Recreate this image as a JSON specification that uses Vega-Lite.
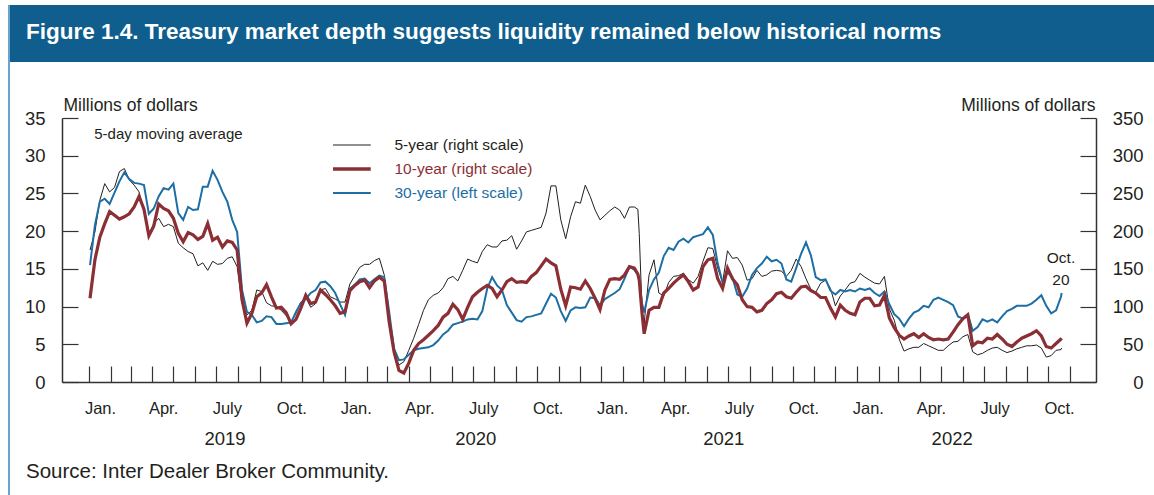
{
  "$schema": "https://vega.github.io/schema/vega-lite/v6.json",
  "background": "white",
  "padding": {"left": 8, "top": 5, "right": 0, "bottom": 0},
  "config": {
    "view": {"stroke": null},
    "font": "Liberation Sans",
    "axis": {"grid": false}
  },
  "bounds": "flush",
  "spacing": 0,
  "hconcat": [
    {
      "width": 2,
      "height": 490,
      "data": {"values": []},
      "mark": "point",
      "view": {"fill": "#6aa3cc", "stroke": null}
    },
    {
      "bounds": "flush",
      "spacing": 56,
      "vconcat": [
        {
          "width": 1144,
          "height": 57,
          "data": {"values": []},
          "mark": "point",
          "view": {"fill": "#0f5e8e", "stroke": null},
          "title": {
            "text": "Figure 1.4. Treasury market depth suggests liquidity remained below historical norms",
            "orient": "top",
            "anchor": "start",
            "frame": "group",
            "offset": -56,
            "dx": 16,
            "baseline": "alphabetic",
            "color": "white",
            "fontSize": 22.5,
            "fontWeight": "bold",
            "font": "Liberation Sans"
          }
        },
        {
          "bounds": "flush",
          "spacing": 0,
          "hconcat": [
            {
              "width": 52,
              "height": 264,
              "data": {"values": []},
              "mark": "point"
            },
            {
              "width": 1034,
              "height": 264,
              "title": {
                "text": "Source: Inter Dealer Broker Community.",
                "orient": "bottom",
                "anchor": "start",
                "frame": "group",
                "offset": 30,
                "dx": -36,
                "baseline": "alphabetic",
                "fontSize": 20.5,
                "fontWeight": "normal",
                "color": "#231f20",
                "font": "Liberation Sans"
              },
              "data": {
                "values": [
                  {"d": "2019-01-02", "a": 175, "b": 111, "c": 15.5},
                  {"d": "2019-01-09", "a": 199, "b": 162, "c": 20.8},
                  {"d": "2019-01-16", "a": 241, "b": 192, "c": 23.9},
                  {"d": "2019-01-23", "a": 263, "b": 210, "c": 24.3},
                  {"d": "2019-01-30", "a": 252, "b": 226, "c": 23.6},
                  {"d": "2019-02-06", "a": 258, "b": 221, "c": 25.1},
                  {"d": "2019-02-13", "a": 279, "b": 216, "c": 26.6},
                  {"d": "2019-02-20", "a": 283, "b": 219, "c": 27.8},
                  {"d": "2019-02-27", "a": 268, "b": 223, "c": 26.9},
                  {"d": "2019-03-06", "a": 261, "b": 232, "c": 26.4},
                  {"d": "2019-03-13", "a": 252, "b": 246, "c": 26.3},
                  {"d": "2019-03-20", "a": 226, "b": 229, "c": 26.1},
                  {"d": "2019-03-27", "a": 195, "b": 194, "c": 22.3},
                  {"d": "2019-04-03", "a": 210, "b": 207, "c": 23.0},
                  {"d": "2019-04-10", "a": 217, "b": 236, "c": 24.6},
                  {"d": "2019-04-17", "a": 206, "b": 230, "c": 25.7},
                  {"d": "2019-04-24", "a": 209, "b": 227, "c": 25.5},
                  {"d": "2019-05-01", "a": 206, "b": 217, "c": 26.3},
                  {"d": "2019-05-08", "a": 184, "b": 197, "c": 22.4},
                  {"d": "2019-05-15", "a": 178, "b": 186, "c": 21.5},
                  {"d": "2019-05-22", "a": 173, "b": 198, "c": 23.2},
                  {"d": "2019-05-29", "a": 170, "b": 195, "c": 22.8},
                  {"d": "2019-06-05", "a": 154, "b": 189, "c": 22.9},
                  {"d": "2019-06-12", "a": 158, "b": 193, "c": 25.9},
                  {"d": "2019-06-19", "a": 148, "b": 210, "c": 25.9},
                  {"d": "2019-06-26", "a": 160, "b": 188, "c": 28.0},
                  {"d": "2019-07-03", "a": 156, "b": 192, "c": 26.8},
                  {"d": "2019-07-10", "a": 157, "b": 179, "c": 25.2},
                  {"d": "2019-07-17", "a": 164, "b": 187, "c": 23.9},
                  {"d": "2019-07-24", "a": 166, "b": 185, "c": 21.5},
                  {"d": "2019-07-31", "a": 153, "b": 175, "c": 19.9},
                  {"d": "2019-08-07", "a": 104, "b": 109, "c": 12.2},
                  {"d": "2019-08-14", "a": 89, "b": 78, "c": 9.3},
                  {"d": "2019-08-21", "a": 95, "b": 91, "c": 8.9},
                  {"d": "2019-08-28", "a": 122, "b": 113, "c": 7.9},
                  {"d": "2019-09-04", "a": 120, "b": 118, "c": 8.1},
                  {"d": "2019-09-11", "a": 105, "b": 129, "c": 8.7},
                  {"d": "2019-09-18", "a": 101, "b": 113, "c": 8.6},
                  {"d": "2019-09-25", "a": 100, "b": 98, "c": 7.7},
                  {"d": "2019-10-02", "a": 95, "b": 99, "c": 7.7},
                  {"d": "2019-10-09", "a": 88, "b": 92, "c": 7.8},
                  {"d": "2019-10-16", "a": 79, "b": 77, "c": 7.9},
                  {"d": "2019-10-23", "a": 91, "b": 83, "c": 9.3},
                  {"d": "2019-10-30", "a": 106, "b": 98, "c": 10.5},
                  {"d": "2019-11-06", "a": 112, "b": 115, "c": 11.0},
                  {"d": "2019-11-13", "a": 99, "b": 104, "c": 11.8},
                  {"d": "2019-11-20", "a": 104, "b": 106, "c": 12.2},
                  {"d": "2019-11-27", "a": 122, "b": 122, "c": 13.2},
                  {"d": "2019-12-04", "a": 124, "b": 116, "c": 13.3},
                  {"d": "2019-12-11", "a": 113, "b": 109, "c": 12.7},
                  {"d": "2019-12-18", "a": 110, "b": 101, "c": 11.8},
                  {"d": "2019-12-25", "a": 106, "b": 91, "c": 10.3},
                  {"d": "2020-01-01", "a": 106, "b": 93, "c": 8.9},
                  {"d": "2020-01-08", "a": 130, "b": 121, "c": 12.4},
                  {"d": "2020-01-15", "a": 141, "b": 128, "c": 12.9},
                  {"d": "2020-01-22", "a": 152, "b": 133, "c": 13.6},
                  {"d": "2020-01-29", "a": 156, "b": 135, "c": 13.7},
                  {"d": "2020-02-05", "a": 156, "b": 125, "c": 13.1},
                  {"d": "2020-02-12", "a": 161, "b": 134, "c": 13.6},
                  {"d": "2020-02-19", "a": 164, "b": 139, "c": 14.1},
                  {"d": "2020-02-26", "a": 142, "b": 134, "c": 13.9},
                  {"d": "2020-03-04", "a": 76, "b": 80, "c": 9.3},
                  {"d": "2020-03-11", "a": 38, "b": 40, "c": 4.4},
                  {"d": "2020-03-18", "a": 22.5, "b": 15.5, "c": 2.9},
                  {"d": "2020-03-25", "a": 27, "b": 12, "c": 3.0},
                  {"d": "2020-04-01", "a": 42, "b": 25, "c": 3.6},
                  {"d": "2020-04-08", "a": 58, "b": 42, "c": 4.2},
                  {"d": "2020-04-15", "a": 76, "b": 51, "c": 4.4},
                  {"d": "2020-04-22", "a": 95, "b": 56, "c": 4.5},
                  {"d": "2020-04-29", "a": 109, "b": 62, "c": 4.6},
                  {"d": "2020-05-06", "a": 115, "b": 68, "c": 4.9},
                  {"d": "2020-05-13", "a": 118, "b": 75, "c": 5.5},
                  {"d": "2020-05-20", "a": 125, "b": 86, "c": 6.3},
                  {"d": "2020-05-27", "a": 137, "b": 91, "c": 6.8},
                  {"d": "2020-06-03", "a": 140, "b": 103, "c": 7.6},
                  {"d": "2020-06-10", "a": 134, "b": 96, "c": 7.8},
                  {"d": "2020-06-17", "a": 148, "b": 83, "c": 8.0},
                  {"d": "2020-06-24", "a": 163, "b": 99, "c": 8.3},
                  {"d": "2020-07-01", "a": 160, "b": 113, "c": 8.4},
                  {"d": "2020-07-08", "a": 158, "b": 119, "c": 8.3},
                  {"d": "2020-07-15", "a": 173, "b": 124, "c": 9.4},
                  {"d": "2020-07-22", "a": 182, "b": 128, "c": 12.4},
                  {"d": "2020-07-29", "a": 179, "b": 124, "c": 13.9},
                  {"d": "2020-08-05", "a": 179, "b": 113, "c": 12.8},
                  {"d": "2020-08-12", "a": 187, "b": 122, "c": 12.2},
                  {"d": "2020-08-19", "a": 188, "b": 133, "c": 10.2},
                  {"d": "2020-08-26", "a": 194, "b": 137, "c": 9.2},
                  {"d": "2020-09-02", "a": 176, "b": 132, "c": 8.2},
                  {"d": "2020-09-09", "a": 187, "b": 133, "c": 8.0},
                  {"d": "2020-09-16", "a": 199, "b": 132, "c": 8.6},
                  {"d": "2020-09-23", "a": 201, "b": 140, "c": 8.7},
                  {"d": "2020-09-30", "a": 203, "b": 145, "c": 8.9},
                  {"d": "2020-10-07", "a": 205, "b": 154, "c": 9.1},
                  {"d": "2020-10-14", "a": 224, "b": 163, "c": 10.4},
                  {"d": "2020-10-21", "a": 260, "b": 158, "c": 11.7},
                  {"d": "2020-10-28", "a": 260, "b": 154, "c": 11.2},
                  {"d": "2020-11-04", "a": 215, "b": 123, "c": 9.4},
                  {"d": "2020-11-11", "a": 190, "b": 101, "c": 8.1},
                  {"d": "2020-11-18", "a": 219, "b": 126, "c": 9.5},
                  {"d": "2020-11-25", "a": 239, "b": 125, "c": 9.9},
                  {"d": "2020-12-02", "a": 237, "b": 123, "c": 9.8},
                  {"d": "2020-12-09", "a": 261, "b": 134, "c": 9.9},
                  {"d": "2020-12-16", "a": 246, "b": 124, "c": 11.2},
                  {"d": "2020-12-23", "a": 228, "b": 111, "c": 11.1},
                  {"d": "2020-12-30", "a": 215, "b": 96, "c": 10.2},
                  {"d": "2021-01-06", "a": 221, "b": 122, "c": 11.0},
                  {"d": "2021-01-13", "a": 227, "b": 136, "c": 11.4},
                  {"d": "2021-01-20", "a": 232, "b": 137, "c": 11.8},
                  {"d": "2021-01-27", "a": 228, "b": 136, "c": 12.3},
                  {"d": "2021-02-03", "a": 217, "b": 142, "c": 13.7},
                  {"d": "2021-02-10", "a": 232, "b": 153, "c": 15.3},
                  {"d": "2021-02-17", "a": 232, "b": 151, "c": 14.9},
                  {"d": "2021-02-22", "a": 229, "b": 143, "c": 14.3},
                  {"d": "2021-02-24", "a": 197, "b": 135, "c": 13.5},
                  {"d": "2021-02-28", "a": 95, "b": 91, "c": 10.4},
                  {"d": "2021-03-03", "a": 78, "b": 64, "c": 9.2},
                  {"d": "2021-03-10", "a": 142, "b": 95, "c": 12.2},
                  {"d": "2021-03-17", "a": 162, "b": 99, "c": 13.6},
                  {"d": "2021-03-24", "a": 118, "b": 99, "c": 14.5},
                  {"d": "2021-03-31", "a": 114, "b": 118, "c": 16.7},
                  {"d": "2021-04-07", "a": 132, "b": 124, "c": 17.8},
                  {"d": "2021-04-14", "a": 140, "b": 131, "c": 17.5},
                  {"d": "2021-04-21", "a": 141, "b": 137, "c": 18.6},
                  {"d": "2021-04-28", "a": 144, "b": 142, "c": 19.0},
                  {"d": "2021-05-05", "a": 136, "b": 133, "c": 18.5},
                  {"d": "2021-05-12", "a": 131, "b": 122, "c": 19.2},
                  {"d": "2021-05-19", "a": 140, "b": 126, "c": 19.4},
                  {"d": "2021-05-26", "a": 160, "b": 153, "c": 19.6},
                  {"d": "2021-06-02", "a": 178, "b": 162, "c": 20.5},
                  {"d": "2021-06-09", "a": 177, "b": 164, "c": 19.5},
                  {"d": "2021-06-16", "a": 151, "b": 137, "c": 15.7},
                  {"d": "2021-06-23", "a": 132, "b": 124, "c": 13.2},
                  {"d": "2021-06-30", "a": 174, "b": 151, "c": 14.5},
                  {"d": "2021-07-07", "a": 164, "b": 137, "c": 13.9},
                  {"d": "2021-07-14", "a": 165, "b": 129, "c": 11.6},
                  {"d": "2021-07-21", "a": 155, "b": 109, "c": 11.3},
                  {"d": "2021-07-28", "a": 135, "b": 100, "c": 12.4},
                  {"d": "2021-08-04", "a": 137, "b": 99, "c": 14.2},
                  {"d": "2021-08-11", "a": 148, "b": 93, "c": 15.1},
                  {"d": "2021-08-18", "a": 140, "b": 95, "c": 15.7},
                  {"d": "2021-08-25", "a": 142, "b": 104, "c": 16.6},
                  {"d": "2021-09-01", "a": 147, "b": 109, "c": 16.0},
                  {"d": "2021-09-08", "a": 148, "b": 117, "c": 16.2},
                  {"d": "2021-09-15", "a": 147, "b": 119, "c": 15.7},
                  {"d": "2021-09-22", "a": 140, "b": 113, "c": 13.6},
                  {"d": "2021-09-29", "a": 148, "b": 111, "c": 13.3},
                  {"d": "2021-10-06", "a": 163, "b": 119, "c": 15.1},
                  {"d": "2021-10-13", "a": 153, "b": 126, "c": 17.0},
                  {"d": "2021-10-20", "a": 137, "b": 127, "c": 18.5},
                  {"d": "2021-10-27", "a": 123, "b": 121, "c": 16.8},
                  {"d": "2021-11-03", "a": 119, "b": 118, "c": 13.9},
                  {"d": "2021-11-10", "a": 131, "b": 112, "c": 13.5},
                  {"d": "2021-11-17", "a": 135, "b": 112, "c": 13.6},
                  {"d": "2021-11-24", "a": 124, "b": 98, "c": 12.1},
                  {"d": "2021-12-01", "a": 101, "b": 86, "c": 11.6},
                  {"d": "2021-12-08", "a": 114, "b": 102, "c": 12.2},
                  {"d": "2021-12-15", "a": 122, "b": 95, "c": 12.0},
                  {"d": "2021-12-22", "a": 131, "b": 91, "c": 12.2},
                  {"d": "2021-12-29", "a": 133, "b": 89, "c": 12.0},
                  {"d": "2022-01-05", "a": 144, "b": 106, "c": 12.4},
                  {"d": "2022-01-12", "a": 139, "b": 111, "c": 12.2},
                  {"d": "2022-01-19", "a": 135, "b": 111, "c": 12.4},
                  {"d": "2022-01-26", "a": 131, "b": 101, "c": 11.8},
                  {"d": "2022-02-02", "a": 130, "b": 102, "c": 11.4},
                  {"d": "2022-02-09", "a": 140, "b": 115, "c": 12.0},
                  {"d": "2022-02-16", "a": 97, "b": 85, "c": 10.3},
                  {"d": "2022-02-23", "a": 82, "b": 72, "c": 9.0},
                  {"d": "2022-03-02", "a": 57, "b": 62, "c": 8.4},
                  {"d": "2022-03-09", "a": 41, "b": 57, "c": 7.4},
                  {"d": "2022-03-16", "a": 44, "b": 61, "c": 8.4},
                  {"d": "2022-03-23", "a": 46, "b": 64, "c": 9.2},
                  {"d": "2022-03-30", "a": 46, "b": 59, "c": 9.5},
                  {"d": "2022-04-06", "a": 51, "b": 64, "c": 10.1},
                  {"d": "2022-04-13", "a": 48, "b": 59, "c": 9.9},
                  {"d": "2022-04-20", "a": 45, "b": 56, "c": 10.9},
                  {"d": "2022-04-27", "a": 42, "b": 57, "c": 11.2},
                  {"d": "2022-05-04", "a": 42, "b": 56, "c": 10.9},
                  {"d": "2022-05-11", "a": 48, "b": 57, "c": 10.6},
                  {"d": "2022-05-18", "a": 53, "b": 66, "c": 10.2},
                  {"d": "2022-05-25", "a": 54, "b": 76, "c": 8.7},
                  {"d": "2022-06-01", "a": 60, "b": 84, "c": 8.4},
                  {"d": "2022-06-08", "a": 63, "b": 89, "c": 9.0},
                  {"d": "2022-06-15", "a": 40, "b": 48, "c": 6.8},
                  {"d": "2022-06-22", "a": 36, "b": 53, "c": 7.3},
                  {"d": "2022-06-29", "a": 38, "b": 52, "c": 8.3},
                  {"d": "2022-07-06", "a": 42, "b": 58, "c": 8.0},
                  {"d": "2022-07-13", "a": 45, "b": 57, "c": 8.3},
                  {"d": "2022-07-20", "a": 46, "b": 63, "c": 7.9},
                  {"d": "2022-07-27", "a": 42, "b": 57, "c": 8.7},
                  {"d": "2022-08-03", "a": 39, "b": 50, "c": 9.4},
                  {"d": "2022-08-10", "a": 41, "b": 47, "c": 9.7},
                  {"d": "2022-08-17", "a": 44, "b": 53, "c": 10.1},
                  {"d": "2022-08-24", "a": 46, "b": 58, "c": 10.1},
                  {"d": "2022-08-31", "a": 48, "b": 61, "c": 10.1},
                  {"d": "2022-09-07", "a": 48, "b": 64, "c": 10.4},
                  {"d": "2022-09-14", "a": 49, "b": 68, "c": 10.9},
                  {"d": "2022-09-21", "a": 45, "b": 61, "c": 11.5},
                  {"d": "2022-09-28", "a": 33, "b": 47, "c": 10.1},
                  {"d": "2022-10-05", "a": 35, "b": 45, "c": 9.1},
                  {"d": "2022-10-12", "a": 42, "b": 51, "c": 9.5},
                  {"d": "2022-10-19", "a": 43, "b": 57, "c": 11.3},
                  {"d": "2022-10-20", "a": 45, "b": 58, "c": 11.8}
                ]
              },
              "layer": [
                {
                  "transform": [{"fold": ["a", "b", "c"], "as": ["k", "v"]}, {"filter": "datum.k == 'a'"}],
                  "mark": {"type": "line", "strokeWidth": 1, "interpolate": "linear"},
                  "encoding": {
                    "x": {
                      "field": "d", "type": "temporal",
                      "scale": {"domain": [{"year": 2018, "month": 11, "date": 23}, {"year": 2022, "month": 12, "date": 8}]},
                      "axis": {
                        "orient": "bottom",
                        "title": null,
                        "values": [
                          {"year": 2019, "month": 1, "date": 1}, {"year": 2019, "month": 2, "date": 1}, {"year": 2019, "month": 3, "date": 1}, {"year": 2019, "month": 4, "date": 1},
                          {"year": 2019, "month": 5, "date": 1}, {"year": 2019, "month": 6, "date": 1}, {"year": 2019, "month": 7, "date": 1}, {"year": 2019, "month": 8, "date": 1},
                          {"year": 2019, "month": 9, "date": 1}, {"year": 2019, "month": 10, "date": 1}, {"year": 2019, "month": 11, "date": 1}, {"year": 2019, "month": 12, "date": 1},
                          {"year": 2020, "month": 1, "date": 1}, {"year": 2020, "month": 2, "date": 1}, {"year": 2020, "month": 3, "date": 1}, {"year": 2020, "month": 4, "date": 1},
                          {"year": 2020, "month": 5, "date": 1}, {"year": 2020, "month": 6, "date": 1}, {"year": 2020, "month": 7, "date": 1}, {"year": 2020, "month": 8, "date": 1},
                          {"year": 2020, "month": 9, "date": 1}, {"year": 2020, "month": 10, "date": 1}, {"year": 2020, "month": 11, "date": 1}, {"year": 2020, "month": 12, "date": 1},
                          {"year": 2021, "month": 1, "date": 1}, {"year": 2021, "month": 2, "date": 1}, {"year": 2021, "month": 3, "date": 1}, {"year": 2021, "month": 4, "date": 1},
                          {"year": 2021, "month": 5, "date": 1}, {"year": 2021, "month": 6, "date": 1}, {"year": 2021, "month": 7, "date": 1}, {"year": 2021, "month": 8, "date": 1},
                          {"year": 2021, "month": 9, "date": 1}, {"year": 2021, "month": 10, "date": 1}, {"year": 2021, "month": 11, "date": 1}, {"year": 2021, "month": 12, "date": 1},
                          {"year": 2022, "month": 1, "date": 1}, {"year": 2022, "month": 2, "date": 1}, {"year": 2022, "month": 3, "date": 1}, {"year": 2022, "month": 4, "date": 1},
                          {"year": 2022, "month": 5, "date": 1}, {"year": 2022, "month": 6, "date": 1}, {"year": 2022, "month": 7, "date": 1}, {"year": 2022, "month": 8, "date": 1},
                          {"year": 2022, "month": 9, "date": 1}, {"year": 2022, "month": 10, "date": 1}, {"year": 2022, "month": 11, "date": 1}
                        ],
                        "labelExpr": "month(datum.value)==0?'Jan.':month(datum.value)==3?'Apr.':month(datum.value)==6?'July':month(datum.value)==9?'Oct.':''",
                        "tickSize": -16,
                        "tickColor": "#333333",
                        "tickWidth": 1.2,
                        "domainColor": "#333333",
                        "domainWidth": 1.5,
                        "labelPadding": 47,
                        "labelBaseline": "alphabetic",
                        "labelAlign": "center",
                        "labelOffset": 10.7,
                        "labelFontSize": 16.5,
                        "labelColor": "#231f20",
                        "labelOverlap": false,
                        "labelBound": false,
                        "labelFlush": false
                      }
                    },
                    "y": {
                      "field": "v", "type": "quantitative",
                      "scale": {"domain": [0, 350], "nice": false},
                      "axis": {
                        "orient": "right",
                        "values": [0, 50, 100, 150, 200, 250, 300, 350],
                        "tickSize": -16,
                        "tickColor": "#333333",
                        "tickWidth": 1.2,
                        "domainColor": "#333333",
                        "domainWidth": 1.5,
                        "labelPadding": 63,
                        "labelAlign": "right",
                        "labelBaseline": "middle",
                        "labelFontSize": 18.5,
                        "labelColor": "#231f20",
                        "labelBound": false,
                        "labelFlush": false,
                        "title": "Millions of dollars",
                        "titleAngle": 0,
                        "titleAlign": "right",
                        "titleBaseline": "alphabetic",
                        "titleX": -1,
                        "titleY": -8,
                        "titleFontSize": 17.5,
                        "titleFontWeight": "normal",
                        "titleColor": "#231f20"
                      }
                    },
                    "color": {
                      "field": "k", "type": "nominal",
                      "scale": {"domain": ["a", "b", "c"], "range": ["#231f20", "#8b2f35", "#1c6ea4"]},
                      "legend": {
                        "orient": "none",
                        "legendX": 325,
                        "legendY": 128,
                        "title": null,
                        "padding": 0,
                        "symbolType": "stroke",
                        "symbolSize": 1444,
                        "symbolOffset": 11,
                        "clipHeight": 24,
                        "rowPadding": 0,
                        "labelOffset": 35,
                        "labelFontSize": 15.5,
                        "labelFont": "Liberation Sans",
                        "labelExpr": "datum.label == 'a' ? '5-year (right scale)' : datum.label == 'b' ? '10-year (right scale)' : '30-year (left scale)'",
                        "encode": {
                          "labels": {"update": {"fill": {"scale": "color", "field": "value"}}},
                          "symbols": {"update": {"strokeWidth": {"signal": "datum.value == 'b' ? 3.5 : datum.value == 'c' ? 2 : 1"}}}
                        }
                      }
                    }
                  }
                },
                {
                  "transform": [{"fold": ["a", "b", "c"], "as": ["k", "v"]}, {"filter": "datum.k == 'c'"}],
                  "mark": {"type": "line", "strokeWidth": 2, "interpolate": "linear"},
                  "encoding": {
                    "x": {
                      "field": "d", "type": "temporal",
                      "scale": {"domain": [{"year": 2018, "month": 11, "date": 23}, {"year": 2022, "month": 12, "date": 8}]},
                      "axis": {
                        "orient": "bottom",
                        "title": null,
                        "values": [
                          {"year": 2019, "month": 7, "date": 13},
                          {"year": 2020, "month": 7, "date": 5},
                          {"year": 2021, "month": 6, "date": 24},
                          {"year": 2022, "month": 5, "date": 16}
                        ],
                        "labelExpr": "timeFormat(datum.value, '%Y')",
                        "domain": false,
                        "ticks": false,
                        "tickSize": 0,
                        "labelPadding": 62,
                        "labelBaseline": "alphabetic",
                        "labelAlign": "center",
                        "labelFontSize": 18.5,
                        "labelColor": "#231f20",
                        "labelOverlap": false,
                        "labelBound": false,
                        "labelFlush": false
                      }
                    },
                    "y": {
                      "field": "v", "type": "quantitative",
                      "scale": {"domain": [0, 35], "nice": false},
                      "axis": {
                        "orient": "left",
                        "values": [0, 5, 10, 15, 20, 25, 30, 35],
                        "tickSize": -16,
                        "tickColor": "#333333",
                        "tickWidth": 1.2,
                        "domainColor": "#333333",
                        "domainWidth": 1.5,
                        "labelPadding": 33,
                        "labelAlign": "right",
                        "labelBaseline": "middle",
                        "labelFontSize": 18.5,
                        "labelColor": "#231f20",
                        "labelBound": false,
                        "labelFlush": false,
                        "title": "Millions of dollars",
                        "titleAngle": 0,
                        "titleAlign": "left",
                        "titleBaseline": "alphabetic",
                        "titleX": 1,
                        "titleY": -8,
                        "titleFontSize": 17.5,
                        "titleFontWeight": "normal",
                        "titleColor": "#231f20"
                      }
                    },
                    "color": {"field": "k", "type": "nominal", "scale": {"domain": ["a", "b", "c"], "range": ["#231f20", "#8b2f35", "#1c6ea4"]}}
                  }
                },
                {
                  "transform": [{"fold": ["a", "b", "c"], "as": ["k", "v"]}, {"filter": "datum.k == 'b'"}],
                  "mark": {"type": "line", "strokeWidth": 3.2, "interpolate": "linear"},
                  "encoding": {
                    "x": {
                      "field": "d", "type": "temporal",
                      "scale": {"domain": [{"year": 2018, "month": 11, "date": 23}, {"year": 2022, "month": 12, "date": 8}]},
                      "axis": null
                    },
                    "y": {"field": "v", "type": "quantitative", "scale": {"domain": [0, 350], "nice": false}, "axis": null},
                    "color": {"field": "k", "type": "nominal", "scale": {"domain": ["a", "b", "c"], "range": ["#231f20", "#8b2f35", "#1c6ea4"]}}
                  }
                },
                {
                  "data": {"values": [{"t": "5-day moving average"}]},
                  "mark": {"type": "text", "align": "left", "baseline": "alphabetic", "fontSize": 15, "color": "#231f20", "font": "Liberation Sans"},
                  "encoding": {
                    "x": {"datum": {"year": 2019, "month": 1, "date": 8}, "type": "temporal", "scale": {"domain": [{"year": 2018, "month": 11, "date": 23}, {"year": 2022, "month": 12, "date": 8}]}, "axis": null},
                    "y": {"datum": 32.2, "type": "quantitative", "scale": {"domain": [0, 35], "nice": false}, "axis": null},
                    "text": {"field": "t"}
                  }
                },
                {
                  "data": {"values": [{"t": ["Oct.", "20"]}]},
                  "mark": {"type": "text", "align": "center", "baseline": "alphabetic", "fontSize": 15.5, "lineHeight": 22, "color": "#231f20", "font": "Liberation Sans"},
                  "encoding": {
                    "x": {"datum": {"year": 2022, "month": 10, "date": 19}, "type": "temporal", "scale": {"domain": [{"year": 2018, "month": 11, "date": 23}, {"year": 2022, "month": 12, "date": 8}]}, "axis": null},
                    "y": {"datum": 15.8, "type": "quantitative", "scale": {"domain": [0, 35], "nice": false}, "axis": null},
                    "text": {"field": "t"}
                  }
                }
              ],
              "resolve": {"scale": {"y": "independent"}, "axis": {"x": "independent"}}
            }
          ]
        }
      ]
    }
  ]
}
